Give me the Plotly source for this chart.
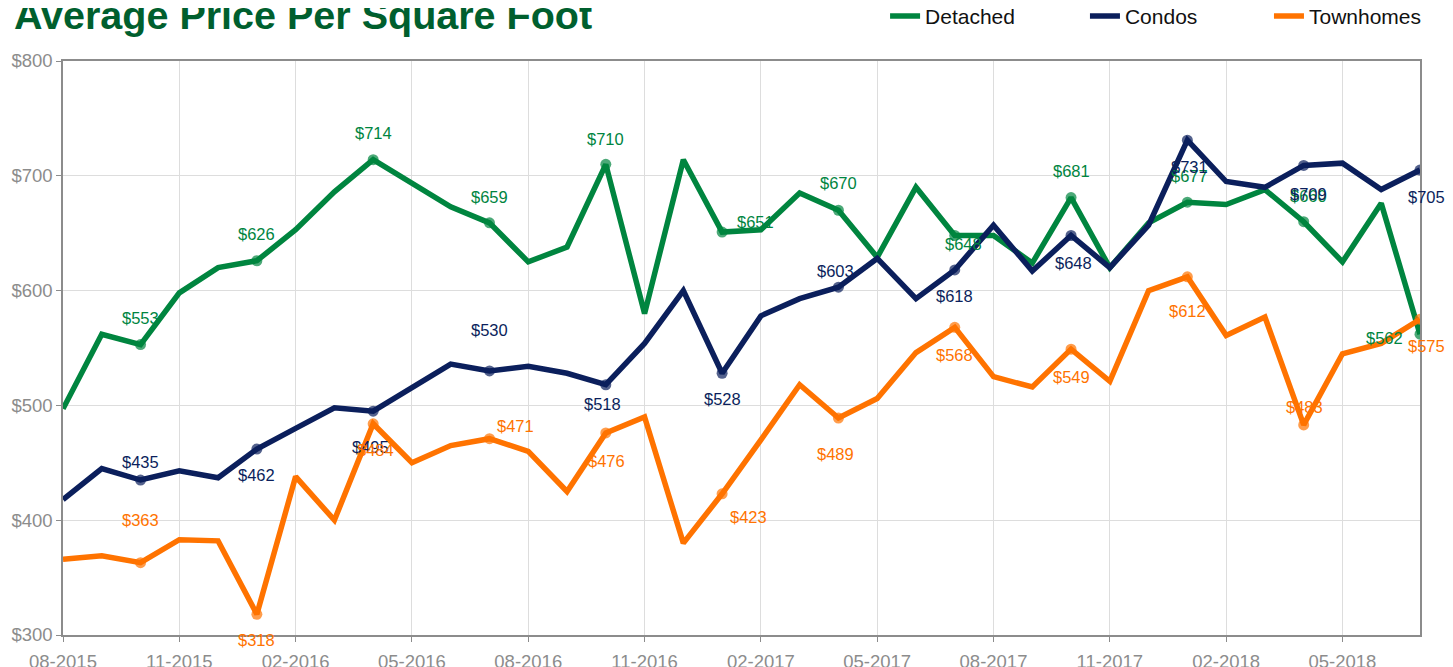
import plotly.graph_objects as go

months = ["08-2015", "09-2015", "10-2015", "11-2015", "12-2015", "01-2016",
          "02-2016", "03-2016", "04-2016", "05-2016", "06-2016", "07-2016",
          "08-2016", "09-2016", "10-2016", "11-2016", "12-2016", "01-2017",
          "02-2017", "03-2017", "04-2017", "05-2017", "06-2017", "07-2017",
          "08-2017", "09-2017", "10-2017", "11-2017", "12-2017", "01-2018",
          "02-2018", "03-2018", "04-2018", "05-2018", "06-2018", "07-2018"]

detached = [497, 562, 553, 598, 620, 626, 653, 686, 714, 693, 673, 659,
            625, 638, 710, 580, 714, 651, 653, 685, 670, 629, 690, 648,
            648, 624, 681, 620, 659, 677, 675, 688, 660, 625, 676, 562]

condos = [418, 445, 435, 443, 437, 462, 480, 498, 495, 515, 536, 530,
          534, 528, 518, 554, 600, 528, 578, 593, 603, 628, 593, 618,
          657, 617, 648, 620, 657, 731, 695, 690, 709, 711, 688, 705]

townhomes = [366, 369, 363, 383, 382, 318, 438, 400, 484, 450, 465, 471,
             460, 425, 476, 490, 380, 423, 470, 518, 489, 506, 546, 568,
             525, 516, 549, 521, 600, 612, 561, 577, 483, 545, 554, 575]

y_ticks = [300, 400, 500, 600, 700, 800]
y_tick_text = ["$" + str(v) for v in y_ticks]

series = [
    ("Detached", detached, "#00853F"),
    ("Condos", condos, "#0B1F5C"),
    ("Townhomes", townhomes, "#FF7300"),
]

# styling only: legend placement (paper x of each legend entry) and label offsets
legend_x = {"Detached": 0.6058, "Condos": 0.7531, "Townhomes": 0.8887}
label_shift = {
    "Detached": [(0, 27), (0, 27), (0, 27), (0, 26), (0, 25), (33, 10),
                 (0, 27), (9, -8), (0, 27), (2, 26), (5, 26), (-36, -4)],
    "Condos": [(0, 18), (0, -26), (-3, -36), (0, 41), (-3, -19), (0, -26),
               (-3, 16), (0, -26), (2, -27), (2, -27), (5, -29), (6, -27)],
    "Townhomes": [(0, 43), (0, -26), (2, -26), (26, 13), (1, -28), (26, -23),
                  (-3, -36), (0, -28), (0, -28), (0, -34), (1, 18), (6, -27)],
}

fig = go.Figure()
annotations = []
legend_layouts = {}
for n, (name, vals, color) in enumerate(series):
    lg = "legend" if n == 0 else f"legend{n + 1}"
    sizes = [11 if i % 3 == 2 else 0 for i in range(len(vals))]
    fig.add_trace(go.Scatter(
        x=months, y=vals, name=name, mode="lines+markers", legend=lg,
        line=dict(color=color, width=5.5),
        marker=dict(size=sizes, color=color, line=dict(width=0)),
        hovertemplate="%{x}: $%{y}<extra>" + name + "</extra>",
    ))
    legend_layouts[lg] = dict(
        orientation="h", x=legend_x[name], xanchor="left", y=1.078,
        yanchor="middle", font=dict(size=21, color="#111111"),
        bgcolor="rgba(0,0,0,0)", borderwidth=0,
    )
    k = 0
    for i, v in enumerate(vals):
        if i % 3 == 2:
            dx, dy = label_shift[name][k]
            k += 1
            annotations.append(dict(
                x=months[i], y=v, xref="x", yref="y", text=f"${v}",
                showarrow=False, xshift=dx, yshift=dy,
                font=dict(family="Liberation Sans, Arial, sans-serif",
                          size=16.5, color=color),
            ))

annotations.append(dict(
    x=-0.0376, y=1.0806, xref="paper", yref="paper", xanchor="left",
    yanchor="middle", showarrow=False, text="<b>Average Price Per Square Foot</b>",
    font=dict(family="Liberation Sans, Arial, sans-serif",
              size=39.5, color="#005F2E"),
))

# the page adds an 8 px body margin, so margins are offset accordingly
fig.update_layout(
    width=1453, height=667,
    margin=dict(l=55, r=41, t=53, b=40, autoexpand=False),
    paper_bgcolor="white", plot_bgcolor="white",
    font=dict(family="Liberation Sans, Arial, sans-serif", color="#888888"),
    showlegend=True,
    annotations=annotations,
    **legend_layouts,
)
fig.update_xaxes(
    type="category", range=[0, len(months) - 1],
    tickvals=months[::3], ticktext=months[::3],
    showgrid=True, gridcolor="#DDDDDD", gridwidth=1,
    showline=True, linecolor="#8C8C8C", linewidth=1.5, mirror=True,
    ticks="outside", ticklen=5, tickcolor="#8C8C8C", ticklabelstandoff=4,
    tickfont=dict(size=18.5, color="#8C8C8C"), zeroline=False,
)
fig.update_yaxes(
    range=[300, 800], tickvals=y_ticks, ticktext=y_tick_text,
    showgrid=True, gridcolor="#DDDDDD", gridwidth=1,
    showline=True, linecolor="#8C8C8C", linewidth=1.5, mirror=True,
    ticks="outside", ticklen=5, tickcolor="#8C8C8C",
    tickfont=dict(size=18.5, color="#8C8C8C"), zeroline=False,
)

fig.write_html("out.html")
